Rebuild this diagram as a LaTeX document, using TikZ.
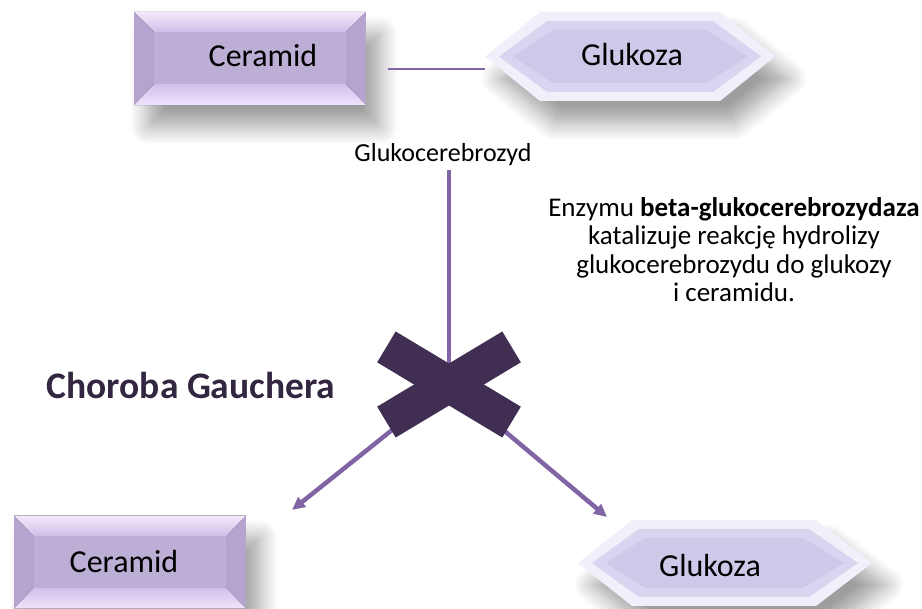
\documentclass[tikz,border=0pt]{standalone}
\usepackage{fontspec}
\setmainfont{Carlito}
\usepackage{tikz}
\usetikzlibrary{arrows.meta, positioning, shadows.blur}
\definecolor{cerface}{RGB}{188,174,213}
\definecolor{cerside}{RGB}{180,164,207}
\definecolor{certopA}{RGB}{243,234,251}
\definecolor{certopB}{RGB}{206,190,232}
\definecolor{cerbotA}{RGB}{208,192,236}
\definecolor{cerbotB}{RGB}{240,228,252}
\definecolor{glkouter}{RGB}{242,239,251}
\definecolor{glkmid}{RGB}{218,212,240}
\definecolor{glkface}{RGB}{207,200,232}
\definecolor{linecol}{RGB}{128,100,164}
\definecolor{crosscol}{RGB}{64,47,83}
\definecolor{titlecol}{RGB}{50,38,64}

\begin{document}
\begin{tikzpicture}[x=1pt, y=-1pt,
    boxshadow/.style={blur shadow={shadow xshift=14pt, shadow yshift=-22pt, shadow blur radius=18pt, shadow blur steps=12, shadow opacity=38}},
    cerbox/.style={rectangle, minimum width=232pt, minimum height=93pt, inner sep=0pt, fill=cerside, boxshadow},
    boxtext/.style={font=\fontsize{32}{38}\selectfont},
    link/.style={draw=linecol, line width=4.5pt},
    arrow/.style={link, -{Triangle[length=13pt, width=12pt]}},
    xarm/.style={rectangle, minimum width=146pt, minimum height=36pt, inner sep=0pt, fill=crosscol}]
    \useasboundingbox (0,0) rectangle (922,609);

    % Ceramid u góry
    \node[cerbox] (cerTop) at (250,58.5) {};
    \fill[top color=certopA, bottom color=certopB] (cerTop.north west) -- (cerTop.north east) -- ([shift={(-20,20)}]cerTop.north east) -- ([shift={(20,20)}]cerTop.north west) -- cycle;
    \fill[top color=cerbotA, bottom color=cerbotB] (cerTop.south west) -- (cerTop.south east) -- ([shift={(-20,-21)}]cerTop.south east) -- ([shift={(20,-21)}]cerTop.south west) -- cycle;
    \fill[cerface] ([shift={(20,20)}]cerTop.north west) rectangle ([shift={(-20,-21)}]cerTop.south east);
    \node[boxtext] (cerTopText) at (263,56) {Ceramid};

    % Glukoza u góry
    \fill[glkouter, boxshadow] (485,56.5) -- (540,12) -- (720,12) -- (775,56.5) -- (720,101) -- (540,101) -- cycle;
    \fill[glkmid] (499,56.5) -- (547,21) -- (713,21) -- (761,56.5) -- (713,92) -- (547,92) -- cycle;
    \fill[glkface] (513,56.5) -- (553,30) -- (707,30) -- (747,56.5) -- (707,83) -- (553,83) -- cycle;
    \node[boxtext] (glkTopText) at (632,55) {Glukoza};

    % Ceramid u dołu
    \node[cerbox] (cerBot) at (130,562) {};
    \fill[top color=certopA, bottom color=certopB] (cerBot.north west) -- (cerBot.north east) -- ([shift={(-20,21)}]cerBot.north east) -- ([shift={(20,21)}]cerBot.north west) -- cycle;
    \fill[top color=cerbotA, bottom color=cerbotB] (cerBot.south west) -- (cerBot.south east) -- ([shift={(-20,-21)}]cerBot.south east) -- ([shift={(20,-21)}]cerBot.south west) -- cycle;
    \fill[cerface] ([shift={(20,21)}]cerBot.north west) rectangle ([shift={(-20,-21)}]cerBot.south east);
    \node[boxtext] (cerBotText) at (124,562) {Ceramid};

    % Glukoza u dołu
    \fill[glkouter, boxshadow] (578,563) -- (632,520) -- (816,520) -- (872,563) -- (816,606) -- (632,606) -- cycle;
    \fill[glkmid] (592,563) -- (639,529) -- (809,529) -- (858,563) -- (809,597) -- (639,597) -- cycle;
    \fill[glkface] (606,563) -- (645,538) -- (803,538) -- (844,563) -- (803,588) -- (645,588) -- cycle;
    \node[boxtext] (glkBotText) at (710,566) {Glukoza};

    % Wiązanie
    \coordinate (joinL) at (388,69);
    \coordinate (joinR) at (485,69);
    \draw[draw=linecol, line width=1.6pt] (joinL) -- (joinR);

    % Glukocerebrozyd
    \node[font=\fontsize{26}{31}\selectfont] (gcb) at (443,155) {Glukocerebrozyd};
    \coordinate (cross) at (449,384.5);
    \coordinate (cerTip) at (292,510);
    \coordinate (glkTip) at (607,517);
    \draw[link] (gcb.south -| cross) -- (cross);
    \draw[arrow] (cross) -- (cerTip);
    \draw[arrow] (cross) -- (glkTip);

    % Krzyżyk
    \node[xarm, rotate=31] (armA) at (cross) {};
    \node[xarm, rotate=-31] (armB) at (cross) {};

    % Opisy
    \node[font=\bfseries\fontsize{37.5}{45}\selectfont, text=titlecol] (gaucher) at (191,385) {Choroba Gauchera};
    \node[align=center, font=\fontsize{27}{28.5}\selectfont] (enzyme) at (734,249.5) {Enzymu \textbf{beta-glukocerebrozydaza}\\ katalizuje reakcję hydrolizy\\ glukocerebrozydu do glukozy\\ i ceramidu.};
\end{tikzpicture}
\end{document}
